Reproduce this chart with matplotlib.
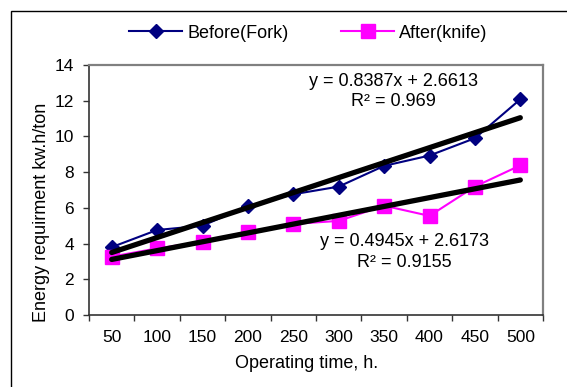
import matplotlib
matplotlib.use("Agg")
import matplotlib.pyplot as plt
import matplotlib.patches as patches
import numpy as np

plt.rcParams['font.family'] = ['Liberation Sans', 'DejaVu Sans']
plt.rcParams['font.size'] = 13

categories = ["50", "100", "150", "200", "250", "300", "350", "400", "450", "500"]
before_fork = [3.8, 4.76, 5.0, 6.1, 6.76, 7.19, 8.35, 8.93, 9.9, 12.08]
after_knife = [3.27, 3.73, 4.1, 4.67, 5.1, 5.27, 6.12, 5.55, 7.19, 8.38]
trend_before = [0.8387, 2.6613]   # slope, intercept
trend_after = [0.4945, 2.6173]
r2_before = "0.969"
r2_after = "0.9155"
y_ticks = [0, 2, 4, 6, 8, 10, 12, 14]

W, H = 567, 387
fig = plt.figure(figsize=(W / 100, H / 100), dpi=100)
fig.patch.set_facecolor('white')

ax = fig.add_axes([89 / W, 1 - 315 / H, (543 - 89) / W, (315 - 65) / H])

x = np.arange(1, len(categories) + 1)

ax.plot(x, before_fork, color='#000080', lw=1.5, marker='D', ms=7.4,
        mfc='#000080', mec='#000080', label='Before(Fork)', zorder=3)
ax.plot(x, after_knife, color='#FF00FF', lw=1.5, marker='s', ms=10.5,
        mfc='#FF00FF', mec='#FF00FF', label='After(knife)', zorder=3)

xt = np.array([x[0], x[-1]])
ax.plot(xt, trend_before[0] * xt + trend_before[1], color='black', lw=3.8,
        solid_capstyle='round', zorder=4)
ax.plot(xt, trend_after[0] * xt + trend_after[1], color='black', lw=3.8,
        solid_capstyle='round', zorder=4)

ax.text(7.20, 13.07, f"y = {trend_before[0]}x + {trend_before[1]}", ha='center', va='center')
ax.text(7.20, 11.94, f"R² = {r2_before}", ha='center', va='center')
ax.text(7.46, 4.10, f"y = {trend_after[0]}x + {trend_after[1]}", ha='center', va='center')
ax.text(7.44, 2.93, f"R² = {r2_after}", ha='center', va='center')

ax.set_xlim(0.5, len(categories) + 0.5)
ax.set_ylim(0, 14)
ax.set_yticks(y_ticks)
ax.set_xticks(np.arange(0.5, len(categories) + 1, 1.0))
ax.set_xticklabels([])
ax.set_xticks(x, minor=True)
ax.set_xticklabels(categories, minor=True)
ax.tick_params(axis='x', which='major', direction='out', length=4.3, width=1, color='#333333')
ax.tick_params(axis='x', which='minor', length=0, pad=10.5, labelsize=12.5)
ax.tick_params(axis='y', direction='out', length=4.3, width=1, color='#333333', pad=6.5,
               labelsize=12.5)

for s in ['top', 'right']:
    ax.spines[s].set_color('#808080')
    ax.spines[s].set_linewidth(1.6)
for s in ['left', 'bottom']:
    ax.spines[s].set_color('#333333')
    ax.spines[s].set_linewidth(1.2)

fig.text(306.5 / W, 1 - 364 / H, "Operating time, h.", ha='center', va='center')
fig.text(42 / W, 1 - 212 / H, "Energy requirment kw.h/ton", ha='center', va='center',
         rotation=90)

fig.legend(loc='center', bbox_to_anchor=(308.5 / W, 1 - 33 / H), ncol=2, frameon=False,
           handlelength=2.94, columnspacing=2.9, handletextpad=0.28)

frame = patches.Rectangle((11 / W, -0.2), 1.2, 1 - 11 / H + 0.2, transform=fig.transFigure,
                          fill=False, edgecolor='black', lw=1.0, clip_on=False)
fig.add_artist(frame)

fig.savefig("out.png", dpi=100, facecolor='white')
